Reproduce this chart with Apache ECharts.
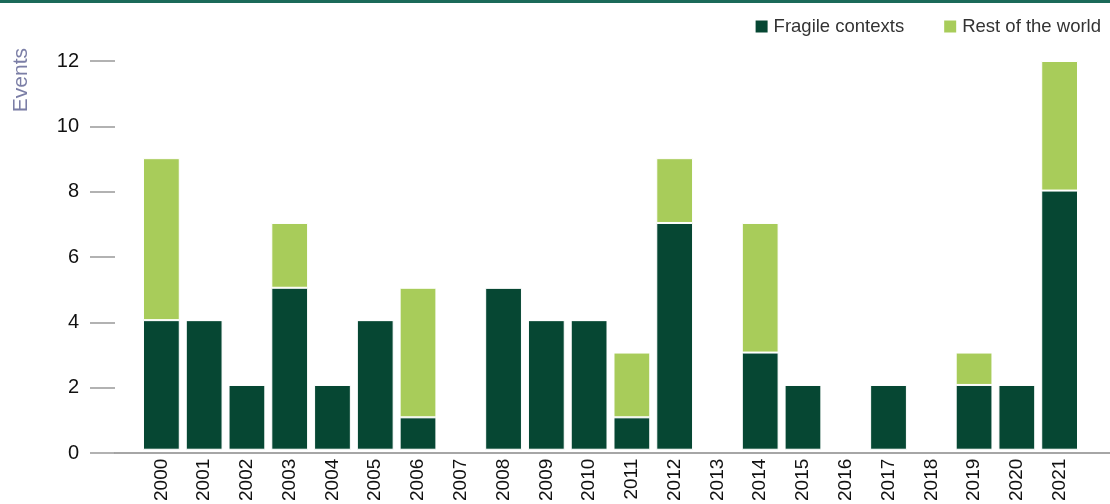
<!DOCTYPE html>
<html>
<head>
<meta charset="utf-8">
<script src="https://cdn.jsdelivr.net/npm/echarts@6/dist/echarts.min.js"></script>
<style>
  html, body { margin: 0; padding: 0; background: #fff; }
  #topbar { width: 1110px; height: 3px; background: #1b6a59; }
  #chart { width: 1110px; height: 501px; }
</style>
</head>
<body>
<div id="topbar"></div>
<div id="chart"></div>
<script>
// data
var years = ['2000','2001','2002','2003','2004','2005','2006','2007','2008','2009','2010',
             '2011','2012','2013','2014','2015','2016','2017','2018','2019','2020','2021'];
var fragile = [4, 4, 2, 5, 2, 4, 1, 0, 5, 4, 4, 1, 7, 0, 3, 2, 0, 2, 0, 2, 2, 8];
var restOfWorld = [5, 0, 0, 2, 0, 0, 4, 0, 0, 0, 0, 2, 2, 0, 4, 0, 0, 0, 0, 1, 0, 4];
var yTicks = { min: 0, max: 12, interval: 2 };

var chart = echarts.init(document.getElementById('chart'));
var font = '"Liberation Sans", Arial, sans-serif';

chart.setOption({
  animation: false,
  textStyle: { fontFamily: font },
  legend: {
    data: ['Fragile contexts', 'Rest of the world'],
    right: 4,
    top: 9,
    icon: 'rect',
    itemWidth: 14,
    itemHeight: 14,
    itemGap: 38,
    textStyle: { fontSize: 18.5, color: '#333', fontFamily: font }
  },
  graphic: [{
    type: 'text',
    left: 11,
    top: 45,
    rotation: Math.PI / 2,
    style: { text: 'Events', fill: '#7b7ea6', fontSize: 21, fontFamily: font }
  }],
  grid: [
    // bars
    { left: 140, right: 29, top: 58, bottom: 51 },
    // axis frame (ticks + baseline)
    { left: 115, right: 0, top: 58, bottom: 51 }
  ],
  xAxis: [
    {
      type: 'category', gridIndex: 0, data: years,
      axisLine: { show: false }, axisTick: { show: false },
      axisLabel: { rotate: 90, fontSize: 19, color: '#111', margin: 9, interval: 0 }
    },
    {
      type: 'category', gridIndex: 1, data: [],
      axisLine: { show: true, lineStyle: { color: '#a6a6a6', width: 2 } },
      axisTick: { show: false }, axisLabel: { show: false }
    }
  ],
  yAxis: [
    {
      type: 'value', gridIndex: 0, min: yTicks.min, max: yTicks.max, interval: yTicks.interval,
      show: false, splitLine: { show: false }
    },
    {
      type: 'value', gridIndex: 1, min: yTicks.min, max: yTicks.max, interval: yTicks.interval,
      axisLine: { show: false },
      axisTick: { show: true, length: 25, lineStyle: { color: '#999', width: 1.5 } },
      axisLabel: { fontSize: 20, color: '#111', margin: 36 },
      splitLine: { show: false }
    }
  ],
  series: [
    {
      name: 'Fragile contexts', type: 'bar', stack: 'ev',
      xAxisIndex: 0, yAxisIndex: 0,
      barWidth: '86%',
      data: fragile,
      itemStyle: { color: '#064733', borderColor: '#fff', borderWidth: 1 }
    },
    {
      name: 'Rest of the world', type: 'bar', stack: 'ev',
      xAxisIndex: 0, yAxisIndex: 0,
      barWidth: '86%',
      data: restOfWorld,
      itemStyle: { color: '#a8cc5a', borderColor: '#fff', borderWidth: 1 }
    }
  ]
});
</script>
</body>
</html>
